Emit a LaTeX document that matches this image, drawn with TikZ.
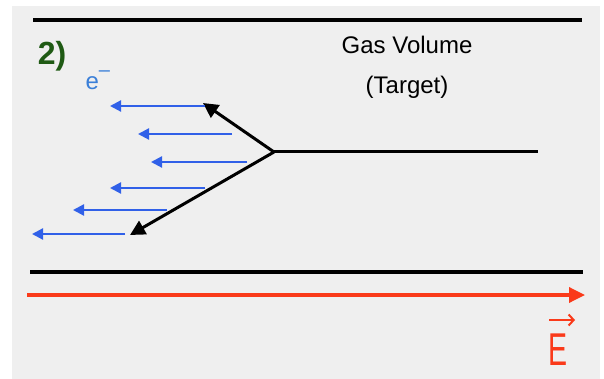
\documentclass[tikz,border=0pt]{standalone}
\usepackage{fontspec}
\setmainfont{Liberation Sans}
\usetikzlibrary{arrows.meta}
\definecolor{panel}{HTML}{EFEFEF}
\definecolor{dgreen}{HTML}{1F5A14}
\definecolor{eblue}{HTML}{3A7FD8}
\definecolor{abblue}{HTML}{3060E8}
\definecolor{ered}{HTML}{FA3A1A}
\tikzset{
  plate/.style={line width=3.6pt, black},
  track/.style={line width=3pt, black},
  primary/.style={line width=3pt, black, -{Triangle[length=15pt,width=15pt]}},
  electron/.style={line width=2.2pt, abblue, -{Triangle[length=11pt,width=11pt]}},
  field/.style={line width=3.4pt, ered, -{Triangle[length=16pt,width=15pt]}},
  vecarrow/.style={line width=2pt, ered, -{Straight Barb[length=5pt,width=11pt]}},
  lbl/.style={inner sep=0pt, font=\fontsize{24}{28}\selectfont}
}
\begin{document}
\begin{tikzpicture}[x=1pt,y=-1pt]
\useasboundingbox (0,0) rectangle (604,379);
\fill[panel] (12,6) rectangle (600,379);
% plates
\coordinate (pl1) at (33,20); \coordinate (pr1) at (582,20);
\coordinate (pl2) at (30,272); \coordinate (pr2) at (583,272);
\draw[plate] (pl1) -- (pr1);
\draw[plate] (pl2) -- (pr2);
% field
\coordinate (fs) at (27,295); \coordinate (fe) at (585,295);
\draw[field] (fs) -- (fe);
\node[text=ered, inner sep=0pt, font=\fontsize{46}{46}\selectfont, xscale=0.62] (E) at (558,350) {E};
\coordinate (va) at (549,320); \coordinate (vb) at (575,320);
\draw[vecarrow] (va) -- (vb);
% labels
\node[lbl] (gas) at (407,45) {Gas Volume};
\node[lbl] (tgt) at (407,87) {(Target)};
\node[inner sep=0pt, text=dgreen, font=\bfseries\fontsize{32}{32}\selectfont] (num) at (52,56) {2)};
\node[inner sep=0pt, text=eblue, font=\fontsize{24}{24}\selectfont] (el) at (98,80) {e\textsuperscript{\raisebox{0.5ex}{\fontsize{20}{20}\selectfont –}}};
% track
\coordinate (v) at (274,152);
\coordinate (tend) at (538,152);
\coordinate (t1) at (203,103);
\coordinate (t2) at (130,235);
\draw[track] (v) -- (tend);
\draw[primary] (v) -- (t1);
\draw[primary] (v) -- (t2);
% electrons
\coordinate (a1) at (205,106); \coordinate (b1) at (110,106);
\coordinate (a2) at (232,134); \coordinate (b2) at (138,134);
\coordinate (a3) at (247,162); \coordinate (b3) at (151,162);
\coordinate (a4) at (205,188); \coordinate (b4) at (110,188);
\coordinate (a5) at (167,210); \coordinate (b5) at (73,210);
\coordinate (a6) at (125,234); \coordinate (b6) at (32,234);
\foreach \i in {1,...,6} \draw[electron] (a\i) -- (b\i);
\end{tikzpicture}
\end{document}
